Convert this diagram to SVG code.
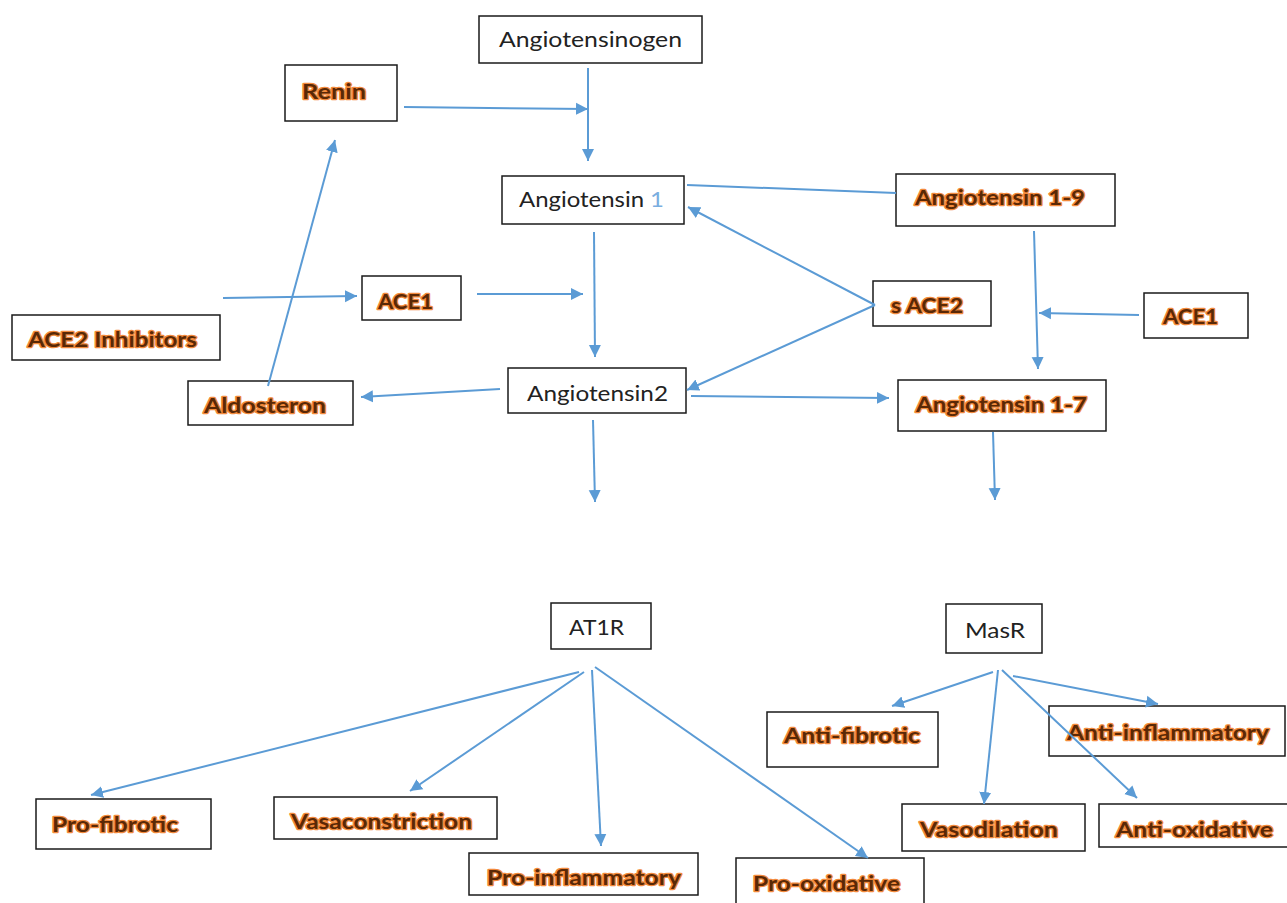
<svg xmlns="http://www.w3.org/2000/svg" width="1287" height="903" viewBox="0 0 1287 903">
<defs>
<marker id="ah" markerUnits="userSpaceOnUse" markerWidth="13" markerHeight="13" refX="12" refY="6.5" orient="auto">
<path d="M0,0.5 L12,6.5 L0,12.5 z" fill="#5b9bd5"/>
</marker>
<style>
.box{fill:#fff;stroke:#1a1a1a;stroke-width:1.5}
.bt{font-family:Lato,"Open Sans",sans-serif;font-size:21px;fill:#222}
.ot{font-family:Lato,"Open Sans",sans-serif;font-size:20px;font-weight:700;fill:#5a2806;stroke:#f28a3c;stroke-width:2.6;stroke-linejoin:round;paint-order:stroke}
.c line{stroke:#5b9bd5;stroke-width:2}
.a{marker-end:url(#ah)}
</style>
</defs>
<rect width="1287" height="903" fill="#fff"/>
<g id="angiotensinogen"><rect class="box" x="479" y="16" width="223" height="47"/><text class="bt" x="499" y="47" textLength="183" lengthAdjust="spacingAndGlyphs">Angiotensinogen</text></g>
<g id="renin"><rect class="box" x="285" y="65" width="112" height="56"/><text class="ot" x="302" y="99" textLength="64" lengthAdjust="spacingAndGlyphs">Renin</text></g>
<g id="angiotensin1"><rect class="box" x="502" y="176" width="182" height="48"/><text class="bt" x="519" y="207" textLength="145" lengthAdjust="spacingAndGlyphs">Angiotensin <tspan fill="#7aaee0">1</tspan></text></g>
<g id="angiotensin19"><rect class="box" x="896" y="174" width="219" height="52"/><text class="ot" x="915" y="205" textLength="170" lengthAdjust="spacingAndGlyphs">Angiotensin 1-9</text></g>
<g id="sace2"><rect class="box" x="873" y="281" width="118" height="45"/><text class="ot" x="891" y="313" textLength="72" lengthAdjust="spacingAndGlyphs">s ACE2</text></g>
<g id="ace1-left"><rect class="box" x="362" y="276" width="99" height="44"/><text class="ot" x="378" y="309" textLength="55" lengthAdjust="spacingAndGlyphs">ACE1</text></g>
<g id="ace2-inhibitors"><rect class="box" x="12" y="315" width="208" height="45"/><text class="ot" x="28" y="347" textLength="169" lengthAdjust="spacingAndGlyphs">ACE2 Inhibitors</text></g>
<g id="aldosteron"><rect class="box" x="188" y="381" width="165" height="44"/><text class="ot" x="204" y="413" textLength="122" lengthAdjust="spacingAndGlyphs">Aldosteron</text></g>
<g id="angiotensin2"><rect class="box" x="508" y="368" width="178" height="45"/><text class="bt" x="527" y="401" textLength="141" lengthAdjust="spacingAndGlyphs">Angiotensin2</text></g>
<g id="ace1-right"><rect class="box" x="1144" y="293" width="104" height="45"/><text class="ot" x="1163" y="324" textLength="55" lengthAdjust="spacingAndGlyphs">ACE1</text></g>
<g id="angiotensin17"><rect class="box" x="898" y="380" width="208" height="51"/><text class="ot" x="916" y="412" textLength="171" lengthAdjust="spacingAndGlyphs">Angiotensin 1-7</text></g>
<g id="at1r"><rect class="box" x="551" y="603" width="100" height="46"/><text class="bt" x="569" y="635" textLength="55" lengthAdjust="spacingAndGlyphs">AT1R</text></g>
<g id="masr"><rect class="box" x="946" y="604" width="96" height="49"/><text class="bt" x="965" y="638" textLength="60" lengthAdjust="spacingAndGlyphs">MasR</text></g>
<g id="pro-fibrotic"><rect class="box" x="36" y="799" width="175" height="50"/><text class="ot" x="52" y="832" textLength="126" lengthAdjust="spacingAndGlyphs">Pro-fibrotic</text></g>
<g id="vasaconstriction"><rect class="box" x="274" y="797" width="223" height="42"/><text class="ot" x="291" y="829" textLength="181" lengthAdjust="spacingAndGlyphs">Vasaconstriction</text></g>
<g id="pro-inflammatory"><rect class="box" x="469" y="853" width="229" height="42"/><text class="ot" x="487" y="885" textLength="194" lengthAdjust="spacingAndGlyphs">Pro-inflammatory</text></g>
<g id="pro-oxidative"><rect class="box" x="736" y="858" width="188" height="50"/><text class="ot" x="753" y="891" textLength="147" lengthAdjust="spacingAndGlyphs">Pro-oxidative</text></g>
<g id="anti-fibrotic"><rect class="box" x="767" y="712" width="171" height="55"/><text class="ot" x="784" y="743" textLength="136" lengthAdjust="spacingAndGlyphs">Anti-fibrotic</text></g>
<g id="anti-inflammatory"><rect class="box" x="1049" y="706" width="236" height="50"/><text class="ot" x="1067" y="740" textLength="202" lengthAdjust="spacingAndGlyphs">Anti-inflammatory</text></g>
<g id="vasodilation"><rect class="box" x="902" y="804" width="183" height="47"/><text class="ot" x="920" y="837" textLength="138" lengthAdjust="spacingAndGlyphs">Vasodilation</text></g>
<g id="anti-oxidative"><rect class="box" x="1099" y="804" width="190" height="43"/><text class="ot" x="1116" y="837" textLength="157" lengthAdjust="spacingAndGlyphs">Anti-oxidative</text></g>
<g class="c" id="connectors">
<line x1="588" y1="68" x2="588" y2="161" class="a"/>
<line x1="404" y1="107" x2="588" y2="109" class="a"/>
<line x1="594" y1="232" x2="595" y2="357" class="a"/>
<line x1="687" y1="185" x2="896" y2="193"/>
<line x1="875" y1="305" x2="688" y2="207" class="a"/>
<line x1="875" y1="305" x2="687" y2="390" class="a"/>
<line x1="1034" y1="231" x2="1038" y2="369" class="a"/>
<line x1="1139" y1="315" x2="1039" y2="313" class="a"/>
<line x1="223" y1="298" x2="357" y2="296" class="a"/>
<line x1="477" y1="294" x2="583" y2="294" class="a"/>
<line x1="268" y1="386" x2="335" y2="140" class="a"/>
<line x1="500" y1="389" x2="361" y2="397" class="a"/>
<line x1="691" y1="396" x2="889" y2="398" class="a"/>
<line x1="593" y1="420" x2="595" y2="502" class="a"/>
<line x1="993" y1="432" x2="995" y2="500" class="a"/>
<line x1="579" y1="672" x2="91" y2="795" class="a"/>
<line x1="584" y1="672" x2="410" y2="791" class="a"/>
<line x1="592" y1="670" x2="601" y2="846" class="a"/>
<line x1="595" y1="667" x2="868" y2="858" class="a"/>
<line x1="993" y1="672" x2="892" y2="706" class="a"/>
<line x1="998" y1="670" x2="984" y2="804" class="a"/>
<line x1="1002" y1="670" x2="1137" y2="798" class="a"/>
<line x1="1013" y1="676" x2="1158" y2="704" class="a"/>
</g>
</svg>
